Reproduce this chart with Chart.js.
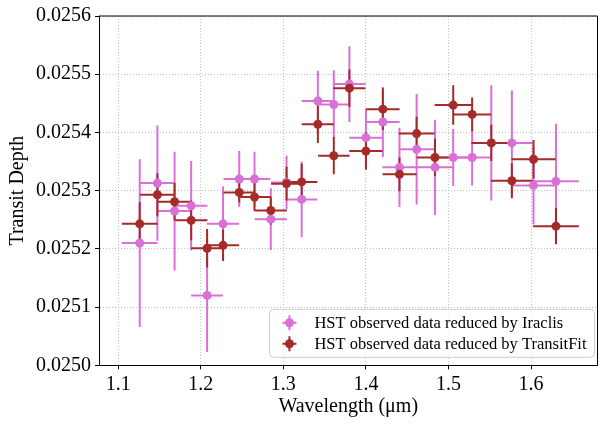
<!DOCTYPE html>
<html>
<head>
<meta charset="utf-8">
<script src="https://cdn.jsdelivr.net/npm/chart.js@4"></script>
<style>
  body { margin: 0; background: #fff; }
</style>
</head>
<body>
<canvas id="chart" width="602" height="424"></canvas>
<script>
// wavelength bins (um) and their half widths
const wavelength = [1.1261, 1.1475, 1.1683, 1.1884, 1.2077, 1.2270, 1.2466, 1.2651, 1.2848, 1.3039,
    1.3222, 1.3418, 1.3611, 1.3800, 1.4000, 1.4205, 1.4406, 1.4614, 1.4836, 1.5057,
    1.5286, 1.5518, 1.5767, 1.6029, 1.6301];
const binHalfWidth = [0.0216, 0.0211, 0.0205, 0.0197, 0.0193, 0.0195, 0.0190, 0.0191, 0.0194, 0.0187,
    0.0190, 0.0195, 0.0191, 0.0195, 0.0202, 0.0203, 0.0205, 0.0215, 0.0221, 0.0225,
    0.0231, 0.0241, 0.0255, 0.0267, 0.0277];

// transit depth, Iraclis
const iraclisDepth = [0.025210, 0.025313, 0.025265, 0.025274, 0.025120, 0.025243, 0.025320, 0.025320, 0.025251, 0.025314,
    0.025285, 0.025454, 0.025448, 0.025483, 0.025391, 0.025418, 0.025340, 0.025371, 0.025340, 0.025357,
    0.025357, 0.025382, 0.025382, 0.025309, 0.025316];
const iraclisErr = [0.000144, 0.000099, 0.000102, 0.000077, 0.000097, 0.000064, 0.000048, 0.000047, 0.000053, 0.000046,
    0.000065, 0.000052, 0.000059, 0.000065, 0.000050, 0.000060, 0.000068, 0.000095, 0.000082, 0.000049,
    0.000048, 0.000099, 0.000090, 0.000067, 0.000099];

// transit depth, TransitFit
const transitFitDepth = [0.025243, 0.025293, 0.025281, 0.025249, 0.025201, 0.025206, 0.025297, 0.025289, 0.025266, 0.025312,
    0.025315, 0.025414, 0.025360, 0.025476, 0.025368, 0.025440, 0.025328, 0.025398, 0.025357, 0.025447,
    0.025431, 0.025382, 0.025317, 0.025354, 0.025239];
const transitFitErr = [0.000037, 0.000037, 0.000032, 0.000034, 0.000033, 0.000027, 0.000017, 0.000024, 0.000024, 0.000029,
    0.000031, 0.000032, 0.000032, 0.000032, 0.000032, 0.000036, 0.000029, 0.000029, 0.000032, 0.000034,
    0.000029, 0.000031, 0.000030, 0.000033, 0.000031];

const xTicks = [1.1, 1.2, 1.3, 1.4, 1.5, 1.6];
const yTicks = [0.0250, 0.0251, 0.0252, 0.0253, 0.0254, 0.0255, 0.0256];

const serif = '"Liberation Serif", "DejaVu Serif", serif';

function toPoints(depth) {
    return wavelength.map((w, i) => ({x: w, y: depth[i]}));
}

// error bars go under every marker (like matplotlib does it)
const errorBars = {
    id: 'errorBars',
    beforeDatasetsDraw(chart) {
        const ctx = chart.ctx;
        const xs = chart.scales.x, ys = chart.scales.y;
        chart.data.datasets.forEach(ds => {
            ctx.save();
            ctx.strokeStyle = ds.backgroundColor;
            ctx.lineWidth = 2;
            ds.data.forEach((p, i) => {
                const px = xs.getPixelForValue(p.x);
                const py = ys.getPixelForValue(p.y);
                ctx.beginPath();
                ctx.moveTo(xs.getPixelForValue(p.x - ds.xErr[i]), py);
                ctx.lineTo(xs.getPixelForValue(p.x + ds.xErr[i]), py);
                ctx.moveTo(px, ys.getPixelForValue(p.y - ds.yErr[i]));
                ctx.lineTo(px, ys.getPixelForValue(p.y + ds.yErr[i]));
                ctx.stroke();
            });
            ctx.restore();
        });
    }
};

// top/right frame + legend inside the axes
const frameAndLegend = {
    id: 'frameAndLegend',
    afterDraw(chart) {
        const ctx = chart.ctx;
        const a = chart.chartArea;
        ctx.save();
        ctx.strokeStyle = '#000';
        ctx.lineWidth = 1;
        ctx.beginPath();
        ctx.moveTo(a.left, a.top);
        ctx.lineTo(a.right, a.top);
        ctx.lineTo(a.right, a.bottom);
        ctx.stroke();

        ctx.font = '16.5px ' + serif;
        const dss = chart.data.datasets;
        const textW = Math.max(...dss.map(d => ctx.measureText(d.label).width));
        const w = 45 + textW + 8, h = 48;
        const bx = a.right - 3 - w, by = a.bottom - 8 - h;
        ctx.beginPath();
        ctx.roundRect(bx, by, w, h, 4);
        ctx.fillStyle = 'rgba(255,255,255,0.8)';
        ctx.fill();
        ctx.strokeStyle = '#cccccc';
        ctx.stroke();

        dss.forEach((d, i) => {
            const cy = by + 13.5 + i * 21;
            const cx = bx + 20;
            ctx.strokeStyle = d.backgroundColor;
            ctx.lineWidth = 2;
            ctx.beginPath();
            ctx.moveTo(cx - 7, cy); ctx.lineTo(cx + 7, cy);
            ctx.moveTo(cx, cy - 7.5); ctx.lineTo(cx, cy + 7.5);
            ctx.stroke();
            ctx.fillStyle = d.backgroundColor;
            ctx.beginPath();
            ctx.arc(cx, cy, 4.5, 0, Math.PI * 2);
            ctx.fill();
            ctx.fillStyle = '#000';
            ctx.textBaseline = 'middle';
            ctx.fillText(d.label, bx + 45, cy + 1);
        });
        ctx.restore();
    }
};

const chart = new Chart(document.getElementById('chart'), {
    type: 'scatter',
    data: {
        datasets: [{
            label: 'HST observed data reduced by Iraclis',
            data: toPoints(iraclisDepth),
            xErr: binHalfWidth,
            yErr: iraclisErr,
            backgroundColor: '#da70d6',
            borderWidth: 0,
            pointRadius: 4.5,
            order: 1,
        }, {
            label: 'HST observed data reduced by TransitFit',
            data: toPoints(transitFitDepth),
            xErr: binHalfWidth,
            yErr: transitFitErr,
            backgroundColor: '#a52a2a',
            borderWidth: 0,
            pointRadius: 4.5,
            order: 0,
        }]
    },
    options: {
        responsive: false,
        animation: false,
        events: [],
        layout: { padding: { top: 13, right: 2, left: 0, bottom: 0 } },
        plugins: {
            legend: { display: false },
            tooltip: { enabled: false },
        },
        scales: {
            x: {
                type: 'linear',
                min: 1.0768,
                max: 1.6804,
                afterBuildTicks: s => { s.ticks = xTicks.map(v => ({value: v})); },
                afterFit: s => { s.height = 58.7; },
                ticks: {
                    callback: v => v.toFixed(1),
                    font: { family: serif, size: 20 },
                    color: '#000',
                    padding: 3,
                    maxRotation: 0,
                },
                grid: { color: '#b0b0b0', lineWidth: 0.8, tickLength: 4, tickColor: '#000', tickWidth: 1 },
                border: { color: '#000', width: 1, dash: [1, 2] },
                title: {
                    display: true,
                    text: 'Wavelength (μm)',
                    font: { family: serif, size: 20 },
                    color: '#000',
                    padding: { top: 0, bottom: 5 },
                },
            },
            y: {
                type: 'linear',
                min: 0.0250,
                max: 0.0256,
                afterBuildTicks: s => { s.ticks = yTicks.map(v => ({value: v})); },
                afterFit: s => { s.width = 99; },
                ticks: {
                    callback: v => v.toFixed(4),
                    font: { family: serif, size: 20 },
                    color: '#000',
                    padding: 4,
                },
                grid: { color: '#b0b0b0', lineWidth: 0.8, tickLength: 4, tickColor: '#000', tickWidth: 1 },
                border: { color: '#000', width: 1, dash: [1, 2] },
                title: {
                    display: true,
                    text: 'Transit Depth',
                    font: { family: serif, size: 20 },
                    color: '#000',
                    padding: { top: 6, bottom: 0 },
                },
            }
        }
    },
    plugins: [errorBars, frameAndLegend]
});
</script>
</body>
</html>
